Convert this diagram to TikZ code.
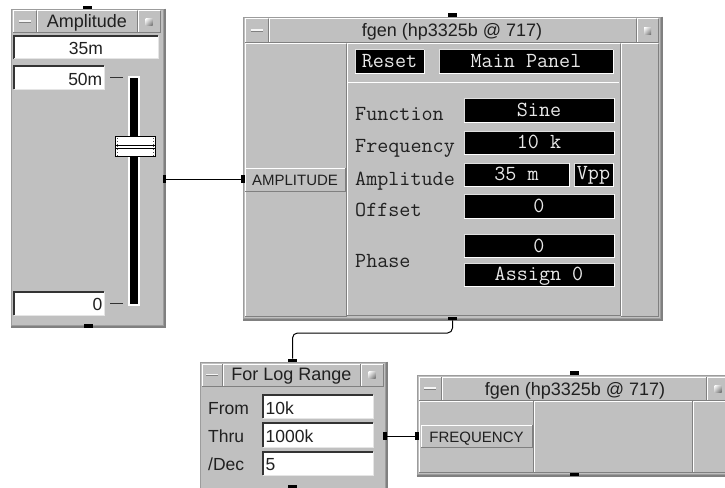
\documentclass[tikz,border=0pt]{standalone}
\usepackage{fontspec}
\setmainfont{Liberation Sans}
\usetikzlibrary{fit,shadings}
\definecolor{pgray}{HTML}{C0C0C0}
\definecolor{pdark}{HTML}{808080}
\definecolor{pline}{HTML}{9C9C9C}
\definecolor{btext}{HTML}{E8E8E8}
\definecolor{ink}{HTML}{202020}
\newcommand\Raised[4]{\fill[pgray] (#1,#2) rectangle (#3,#4);\draw[white,line width=1] (#1,#4) |- (#3,#2);\draw[pdark,line width=1] (#3,#2) |- (#1,#4);}
\newcommand\Sunken[4]{\fill[white] (#1,#2) rectangle (#3,#4);\draw[black!80,line width=1.2] (#1,#4) |- (#3,#2);\draw[white!80!gray,line width=1] (#3,#2) |- (#1,#4);}
\newcommand\Blk[4]{\fill[black] (#1,#2) rectangle (#3,#4);\draw[white!75!gray,line width=1] (#1,#4) |- (#3,#2);\draw[white,line width=1] (#3,#2) |- (#1,#4);}
\newcommand\TBar[6]{%
  \Raised{#1}{#2}{#5}{#4}\Raised{#5+1}{#2}{#6}{#4}\Raised{#6+1}{#2}{#3}{#4}%
  \fill[white!92!gray] ({(#1+#5)/2-6},{(#2+#4)/2-1.5}) rectangle ({(#1+#5)/2+6},{(#2+#4)/2});
  \fill[pdark] ({(#1+#5)/2-6},{(#2+#4)/2}) rectangle ({(#1+#5)/2+6},{(#2+#4)/2+1});
  \shade[upper left=white,lower right=black!60,upper right=gray!50,lower left=gray!50]
    ({(#6+1+#3)/2-3.5},{(#2+#4)/2-3.5}) rectangle ({(#6+1+#3)/2+3.5},{(#2+#4)/2+3.5});}
\tikzset{
  panelbox/.style={fill=pgray,draw=pline,line width=0.8,inner sep=0},
  pinh/.style={fill=black,inner sep=0,minimum width=9pt,minimum height=3.5pt},
  pinv/.style={fill=black,inner sep=0,minimum width=3.5pt,minimum height=8pt},
  ttl/.style={font=\fontsize{18}{18}\selectfont,anchor=base,inner sep=0,text=ink},
  fld/.style={font=\fontsize{17.5}{17.5}\selectfont,inner sep=0,text=ink},
  btn/.style={font=\fontsize{15}{15}\selectfont,anchor=base,inner sep=0,text=ink},
  mono/.style={font=\fontsize{21.5}{21.5}\ttfamily,anchor=base west,inner sep=0,text=ink},
  bmono/.style={font=\fontsize{21.5}{21.5}\ttfamily,anchor=base,inner sep=0,text=btext},
  conn/.style={black,line width=1},
}
\begin{document}
\begin{tikzpicture}[x=1pt,y=-1pt]
\useasboundingbox (0,0) rectangle (725,487);
\clip (0,0) rectangle (725,487);
\fill[white] (0,0) rectangle (725,487);
% ---------- Amplitude slider ----------
\node[panelbox,fit={(11,9)(163,325)}] (amp) {};
\draw[pdark,line width=1.2] ([xshift=1.5pt]amp.north east) |- ([yshift=-1.5pt]amp.south west);
\TBar{13}{11}{160}{33}{36}{137}
\node[ttl] (ampt) at (87,28) {Amplitude};
\Sunken{14}{36}{158}{59}
\node[fld,anchor=base] (ampv) at (86,55) {35m};
\Sunken{14}{66}{104}{89}
\node[fld,anchor=base east] (ampmax) at (102.5,85) {50m};
\Sunken{14}{292}{104}{315}
\node[fld,anchor=base east] (ampmin) at (102.5,310) {0};
\draw[black!80] (110,77.5) -- (123,77.5);
\draw[black!80] (110,303.5) -- (123,303.5);
\fill[white] (128,76) rectangle (140,306);
\fill[black] (130.3,78) rectangle (137.7,304);
\draw[black,fill=white,line width=1] (115.5,136.5) rectangle (155.5,156.5);
\draw[black,line width=0.9] (116,145) -- (155,145) (116,148.3) -- (155,148.3);
\draw[black!70,dotted,line width=0.8] (117.5,138) -- (117.5,155) (153.5,138) -- (153.5,155);
% ---------- fgen main ----------
\node[panelbox,fit={(243,17)(660,318)}] (fg) {};
\draw[pdark,line width=1.2] ([xshift=1.5pt]fg.north east) |- ([yshift=-1.5pt]fg.south west);
\TBar{245}{19}{658}{43}{268}{636}
\node[ttl] (fgt) at (452,36.5) {fgen (hp3325b @ 717)};
\Raised{245}{44}{346}{316}
\Raised{347}{44}{620}{315}
\Raised{621}{44}{658}{316}
\draw[white,line width=1] (348,82) -- (619,82);
\Raised{245}{168}{345}{191}
\node[btn] (fgamp) at (295,185.5) {AMPLITUDE};
\Blk{355}{50}{424}{73}
\node[bmono] (reset) at (389.5,67.5) {Reset};
\Blk{439}{50}{613}{73}
\node[bmono] (mainp) at (526,67.5) {Main Panel};
\node[mono] (lfun) at (355,120.5) {Function};
\node[mono] (lfreq) at (355,152.5) {Frequency};
\node[mono] (lamp) at (355,185) {Amplitude};
\node[mono] (loff) at (355,216) {Offset};
\node[mono] (lph) at (355,267.5) {Phase};
\Blk{464}{98}{614}{122}
\node[bmono] (vfun) at (539,116) {Sine};
\Blk{464}{131}{614}{154}
\node[bmono] (vfreq) at (539,148.5) {10 k};
\Blk{464}{163}{569}{186}
\node[bmono] (vamp) at (516.5,180) {35 m};
\Blk{574}{163}{613}{186}
\node[bmono] (vunit) at (593.5,179.5) {Vpp};
\Blk{464}{194}{614}{218}
\node[bmono] (voff) at (539,212.5) {0};
\Blk{464}{234}{614}{257}
\node[bmono] (vph) at (539,252.5) {0};
\Blk{464}{263}{614}{286}
\node[bmono] (vassign) at (539,280) {Assign 0};
% ---------- For Log Range ----------
\node[panelbox,fit={(200,362)(385,495)}] (flr) {};
\draw[pdark,line width=1.2] ([xshift=1.5pt]flr.north east) -- ([xshift=1.5pt]flr.south east);
\TBar{202}{364}{383}{386}{222}{360}
\node[ttl] (flrt) at (291.5,380.7) {For Log Range};
\node[fld,anchor=base west] (lfrom) at (208,414) {From};
\node[fld,anchor=base west] (lthru) at (208,442) {Thru};
\node[fld,anchor=base west] (ldec) at (208,470) {/Dec};
\Sunken{263}{395}{373}{418}
\node[fld,anchor=base west] (vfrom) at (265.5,414) {10k};
\Sunken{263}{423}{373}{447}
\node[fld,anchor=base west] (vthru) at (265.5,442) {1000k};
\Sunken{263}{452}{373}{475}
\node[fld,anchor=base west] (vdec) at (265.5,470) {5};
% ---------- fgen (bottom right) ----------
\node[panelbox,fit={(417,375)(745,474)}] (fg2) {};
\draw[pdark,line width=1.2] ([yshift=-1.5pt]fg2.south west) -- ([yshift=-1.5pt]fg2.south east);
\TBar{419}{377}{729}{400}{441}{706}
\node[ttl] (fg2t) at (575,395) {fgen (hp3325b @ 717)};
\Raised{419}{401}{533}{472}
\Raised{534}{401}{692}{472}
\Raised{693}{401}{729}{472}
\Raised{421}{425}{532}{447}
\node[btn] (fg2freq) at (476.5,442.5) {FREQUENCY};
% ---------- pins ----------
\node[pinh] (amptop) at (87.5,7.5) {};
\node[pinh] (ampbot) at (88,326) {};
\node[pinv] (ampout) at (164.5,179) {};
\node[pinh] (fgtop) at (452.5,15) {};
\node[pinh] (fgbot) at (452.5,318.5) {};
\node[pinv] (fgin) at (243,179) {};
\node[pinh] (flrtop) at (292.5,360.5) {};
\node[pinh] (flrbot) at (292.5,487) {};
\node[pinv] (flrout) at (385,436) {};
\node[pinh] (fg2top) at (574,373) {};
\node[pinh] (fg2bot) at (574,474.5) {};
\node[pinv] (fg2in) at (417,436) {};
% ---------- connectors ----------
\coordinate (via) at (370,333);
\draw[conn] (ampout.east) -- (fgin.west);
\draw[conn,rounded corners=5] (fgbot.south) |- (via) -| (flrtop.north);
\draw[conn] (flrout.east) -- (fg2in.west);
\end{tikzpicture}
\end{document}
